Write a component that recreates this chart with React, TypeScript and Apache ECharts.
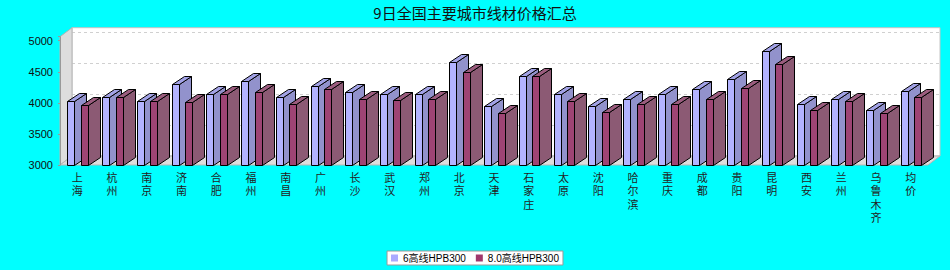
import React, { useEffect, useRef } from 'react';
import * as echarts from 'echarts';

const categories = ['上海', '杭州', '南京', '济南', '合肥', '福州', '南昌', '广州', '长沙', '武汉', '郑州', '北京', '天津', '石家庄', '太原', '沈阳', '哈尔滨', '重庆', '成都', '贵阳', '昆明', '西安', '兰州', '乌鲁木齐', '均价'];
const series6 = [4030, 4100, 4030, 4300, 4140, 4350, 4100, 4270, 4170, 4140, 4140, 4650, 3950, 4430, 4140, 3950, 4060, 4140, 4220, 4380, 4830, 3980, 4070, 3880, 4190];
const series8 = [3970, 4100, 4030, 4010, 4140, 4170, 3980, 4220, 4070, 4040, 4060, 4490, 3830, 4430, 4030, 3860, 3980, 3980, 4060, 4240, 4620, 3880, 4030, 3830, 4090];
const seriesNames = ['6高线HPB300', '8.0高线HPB300'];
const yTicks = [3000, 3500, 4000, 4500, 5000];
const titleText = '9日全国主要城市线材价格汇总';

const Y_MIN = 3000;
const Y_MAX = 5065;
const BAR_DX = 12;
const BAR_DY = -8;
const WALL_DX = 12;
const WALL_DY = -9;

function barRenderer(offFrac: number, wFrac: number, front: string, side: string, top: string) {
  return (params: any, api: any) => {
    const idx = api.value(0);
    const v = api.value(1);
    const band = api.size([1, 0])[0];
    const c = api.coord([idx, v]);
    const b = api.coord([idx, Y_MIN]);
    const x0 = Math.round(c[0] - band / 2 + band * offFrac) + 0.5;
    const x1 = x0 + Math.round(band * wFrac);
    const yt = Math.round(c[1]) + 0.5;
    const yb = Math.round(b[1]) + 0.5;
    const st = { stroke: '#000', lineWidth: 1 };
    return {
      type: 'group',
      children: [
        { type: 'polygon', shape: { points: [[x1, yt], [x1 + BAR_DX, yt + BAR_DY], [x1 + BAR_DX, yb + BAR_DY], [x1, yb]] }, style: { ...st, fill: side } },
        { type: 'polygon', shape: { points: [[x0, yt], [x0 + BAR_DX, yt + BAR_DY], [x1 + BAR_DX, yt + BAR_DY], [x1, yt]] }, style: { ...st, fill: top } },
        { type: 'rect', shape: { x: x0, y: yt, width: x1 - x0, height: yb - yt }, style: { ...st, fill: front } },
      ],
    };
  };
}

function decoRenderer(params: any, api: any) {
  const cs = params.coordSys;
  const xl = cs.x;
  const xr = cs.x + cs.width;
  const yt = cs.y;
  const yb = cs.y + cs.height;
  const children: any[] = [];
  children.push({
    type: 'rect',
    shape: { x: xl + WALL_DX, y: yt + WALL_DY, width: cs.width, height: cs.height },
    style: { fill: '#ffffff', stroke: '#c4c4c4', lineWidth: 1 },
  });
  yTicks.slice(1).forEach((t) => {
    const y = Math.round(api.coord([0, t])[1] + WALL_DY) + 0.5;
    children.push({
      type: 'line',
      shape: { x1: xl + WALL_DX, y1: y, x2: xr + WALL_DX, y2: y },
      style: { stroke: '#d0d0d0', lineDash: [3, 3], lineWidth: 1 },
    });
  });
  children.push({
    type: 'polygon',
    shape: { points: [[xl, yt], [xl + WALL_DX, yt + WALL_DY], [xl + WALL_DX, yb + WALL_DY], [xl, yb]] },
    style: { fill: '#dddddd', stroke: '#b4b4b4', lineWidth: 1 },
  });
  children.push({
    type: 'polygon',
    shape: { points: [[xl, yb], [xl + WALL_DX, yb + WALL_DY], [xr + WALL_DX, yb + WALL_DY], [xr, yb]] },
    style: { fill: '#dddddd', stroke: '#b4b4b4', lineWidth: 1 },
  });
  return { type: 'group', children };
}

export default function App() {
  const ref = useRef<HTMLDivElement>(null);
  useEffect(() => {
    document.body.style.margin = '0';
    const chart = echarts.init(ref.current!, null, { renderer: 'svg' });
    chart.setOption({
      animation: false,
      backgroundColor: '#00ffff',
      title: {
        text: titleText,
        left: 'center',
        top: 5,
        padding: 0,
        textStyle: { fontSize: 15, fontWeight: 'normal', color: '#111', fontFamily: 'Noto Sans CJK SC' },
      },
      legend: {
        data: seriesNames,
        left: 'center',
        top: 251,
        icon: 'rect',
        itemWidth: 7,
        itemHeight: 7,
        itemGap: 10,
        padding: [2, 4, 2, 4],
        backgroundColor: '#ffffff',
        borderColor: '#999999',
        borderWidth: 1,
        borderRadius: 0,
        textStyle: { fontSize: 10, color: '#000', fontFamily: 'Liberation Sans, Noto Sans CJK SC' },
      },
      grid: { left: 60, right: 22, top: 36.7, bottom: 105, outerBoundsMode: 'none' },
      xAxis: {
        type: 'category',
        data: categories,
        axisLine: { show: false },
        axisTick: { show: false },
        splitLine: { show: false },
        axisLabel: {
          interval: 0,
          margin: 5,
          fontSize: 11,
          lineHeight: 13.5,
          color: '#222',
          fontFamily: 'Noto Sans CJK SC',
          formatter: (v: string) => v.split('').join('\n'),
        },
      },
      yAxis: {
        type: 'value',
        min: Y_MIN,
        max: Y_MAX,
        interval: 500,
        axisLine: { show: true, lineStyle: { color: '#999' } },
        axisTick: { show: true, length: 2, lineStyle: { color: '#999' } },
        splitLine: { show: false },
        axisLabel: {
          margin: 7,
          fontSize: 11,
          color: '#111',
          fontFamily: 'Liberation Sans',
          formatter: (v: number) => (v % 500 === 0 ? String(v) : ''),
        },
      },
      series: [
        {
          type: 'custom',
          name: 'deco',
          silent: true,
          z: 0,
          data: [[0, Y_MIN]],
          renderItem: decoRenderer,
        },
        {
          type: 'custom',
          name: seriesNames[0],
          z: 2,
          itemStyle: { color: '#aaaaff' },
          encode: { x: 0, y: 1 },
          data: series6.map((v, i) => [i, v]),
          renderItem: barRenderer(0.216, 0.2, '#b3b3ff', '#9292cc', '#a2a2e6'),
        },
        {
          type: 'custom',
          name: seriesNames[1],
          z: 3,
          itemStyle: { color: '#a0386c' },
          encode: { x: 0, y: 1 },
          data: series8.map((v, i) => [i, v]),
          renderItem: barRenderer(0.605, 0.2, '#9e4474', '#8c5a74', '#9b5c7e'),
        },
      ],
    });
    return () => chart.dispose();
  }, []);
  return <div ref={ref} style={{ width: 950, height: 270 }} />;
}
